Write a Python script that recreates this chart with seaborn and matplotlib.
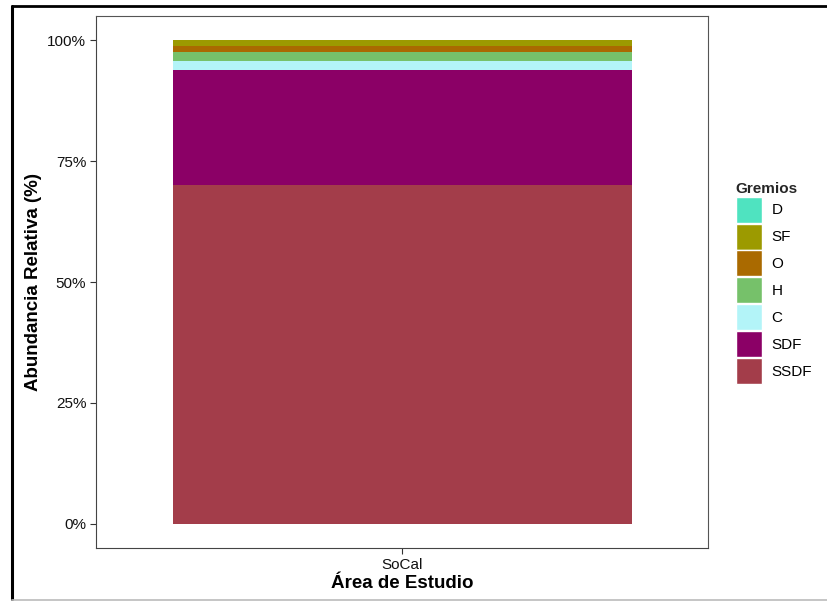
import matplotlib
matplotlib.use("Agg")
import matplotlib.pyplot as plt
from matplotlib.lines import Line2D
from matplotlib.patches import Patch
import seaborn as sns
import pandas as pd
import numpy as np

# Data
area = ["SoCal"]
gremios = ["SSDF", "SDF", "C", "H", "O", "SF", "D"]  # bottom -> top
valores = [70.1, 23.7, 1.85, 1.95, 1.2, 1.15, 0.05]   # percent
colores = {"D": "#4FE3C0", "SF": "#9C9A00", "O": "#AA6A00", "H": "#76C16A",
           "C": "#B3F4F8", "SDF": "#8B0066", "SSDF": "#A33D4A"}
legend_order = ["D", "SF", "O", "H", "C", "SDF", "SSDF"]
yticks = [0, 0.25, 0.5, 0.75, 1.0]
ytick_labels = ["0%", "25%", "50%", "75%", "100%"]

sns.set_theme(style="white")
plt.rcParams['font.family'] = ['Liberation Sans', 'DejaVu Sans']

fig = plt.figure(figsize=(8.27, 6.01), dpi=100)
ax = fig.add_axes([96/827, 1 - 548/601, (708 - 96)/827, (548 - 16)/601])

frac = np.array(valores) / sum(valores)
cum = np.cumsum(frac)
# draw from top cumulative down so lower segments overlay
for i in range(len(gremios) - 1, -1, -1):
    df = pd.DataFrame({"area": area, "val": [cum[i]]})
    sns.barplot(data=df, x="area", y="val", color=colores[gremios[i]],
                saturation=1, width=0.9, ax=ax, errorbar=None, linewidth=0)

ax.set_xlim(-0.6, 0.6)
ax.set_ylim(-0.05, 1.05)
ax.set_yticks(yticks)
ax.set_yticklabels(ytick_labels, fontsize=11)
ax.tick_params(axis="x", labelsize=11)
ax.tick_params(axis="both", which="major", length=4, width=0.8, color="#333333",
               direction="out", left=True, bottom=True, pad=3)
for lab in ax.get_xticklabels() + ax.get_yticklabels():
    lab.set_color("#111111")
ax.set_xlabel("Área de Estudio", fontsize=13.5, fontweight="bold", labelpad=2, color="black")
ax.set_ylabel("Abundancia Relativa (%)", fontsize=13.5, fontweight="bold", labelpad=4, color="black")
for s in ax.spines.values():
    s.set_visible(True)
    s.set_color("#555555")
    s.set_linewidth(0.8)
ax.spines["left"].set_color("#444444")
ax.spines["bottom"].set_color("#444444")
ax.grid(False)

handles = [Patch(facecolor=colores[g], edgecolor="white", linewidth=1) for g in legend_order]
leg = fig.legend(handles, legend_order, title="Gremios", loc="upper left",
                 bbox_to_anchor=(722/827, 1 - 168/601), frameon=False,
                 fontsize=11, title_fontproperties={"weight": "bold", "size": 11},
                 handlelength=1.75, handleheight=2.24, handletextpad=0.6,
                 labelspacing=0.06, alignment="left")
for t in leg.get_texts():
    t.set_color("black")

# outer frame lines
fig.add_artist(Line2D([12/827, 12/827], [1 - 599/601, 1 - 6/601], color="black",
                      linewidth=2.2, transform=fig.transFigure))
fig.add_artist(Line2D([12/827, 1.0], [1 - 6/601, 1 - 6/601], color="black",
                      linewidth=2.0, transform=fig.transFigure))
fig.add_artist(Line2D([12/827, 1.0], [1 - 599.5/601, 1 - 599.5/601], color="#BBBBBB",
                      linewidth=1.2, transform=fig.transFigure))

fig.savefig("out.png", dpi=100)
